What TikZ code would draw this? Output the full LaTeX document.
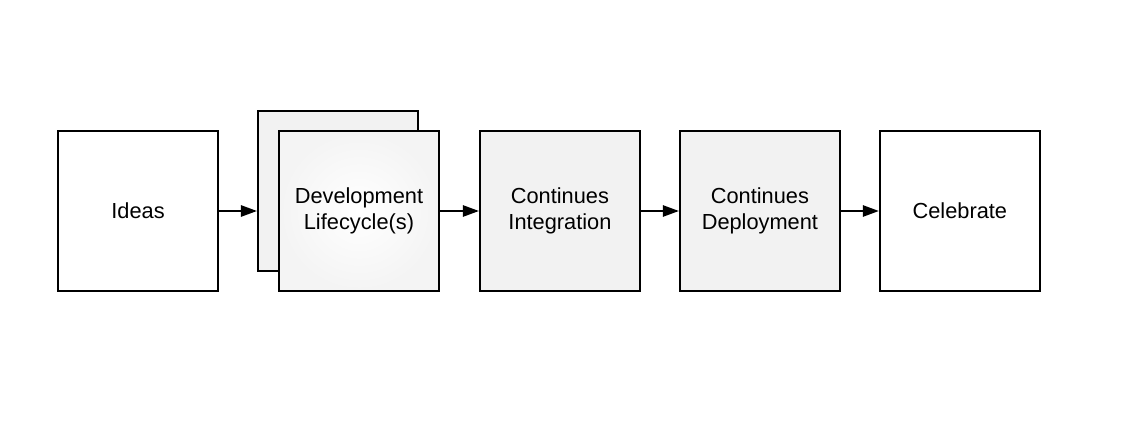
\documentclass[tikz,border=0pt]{standalone}
\usepackage{fontspec}
\setmainfont{Liberation Sans}
\usepackage{tikz}
\usetikzlibrary{positioning,arrows.meta}
\tikzset{s-box/.style={rectangle, minimum width=4cm, minimum height=4cm, text centered, text width=3.6cm, draw=black, line width=1.4pt, fill=white, font=\fontsize{15.5pt}{19pt}\selectfont},
arrow/.style={line width=1.4pt,-{Triangle[length=0.4cm,width=0.28cm]}}}
\definecolor{c_step}{HTML}{F2F2F2}

\begin{document}
\begin{tikzpicture}[node distance = 0.95cm]
\useasboundingbox (0,0) rectangle (28.475,10.7);
\node (ideas) [s-box] at (3.45,5.425) {Ideas};
\node (dev) [s-box, right=1.475cm of ideas, draw=none, fill=none] {};
\node (devback) [s-box, fill=c_step, xshift=-0.525cm, yshift=0.5cm] at (dev) {};
\node (devfront) [s-box, shading=radial, inner color=white, outer color=c_step!85!white] at (dev) {Development\\ Lifecycle(s)};
\node (integ) [s-box, right=0.975cm of dev, fill=c_step] {Continues\\ Integration};
\node (deploy) [s-box, right=of integ, fill=c_step] {Continues\\ Deployment};
\node (celeb) [s-box, right=of deploy] {Celebrate};
\draw [arrow] (ideas) -- (ideas -| devback.west);
\draw [arrow] (devfront) -- (integ);
\draw [arrow] (integ) -- (deploy);
\draw [arrow] (deploy) -- (celeb);
\end{tikzpicture}
\end{document}
